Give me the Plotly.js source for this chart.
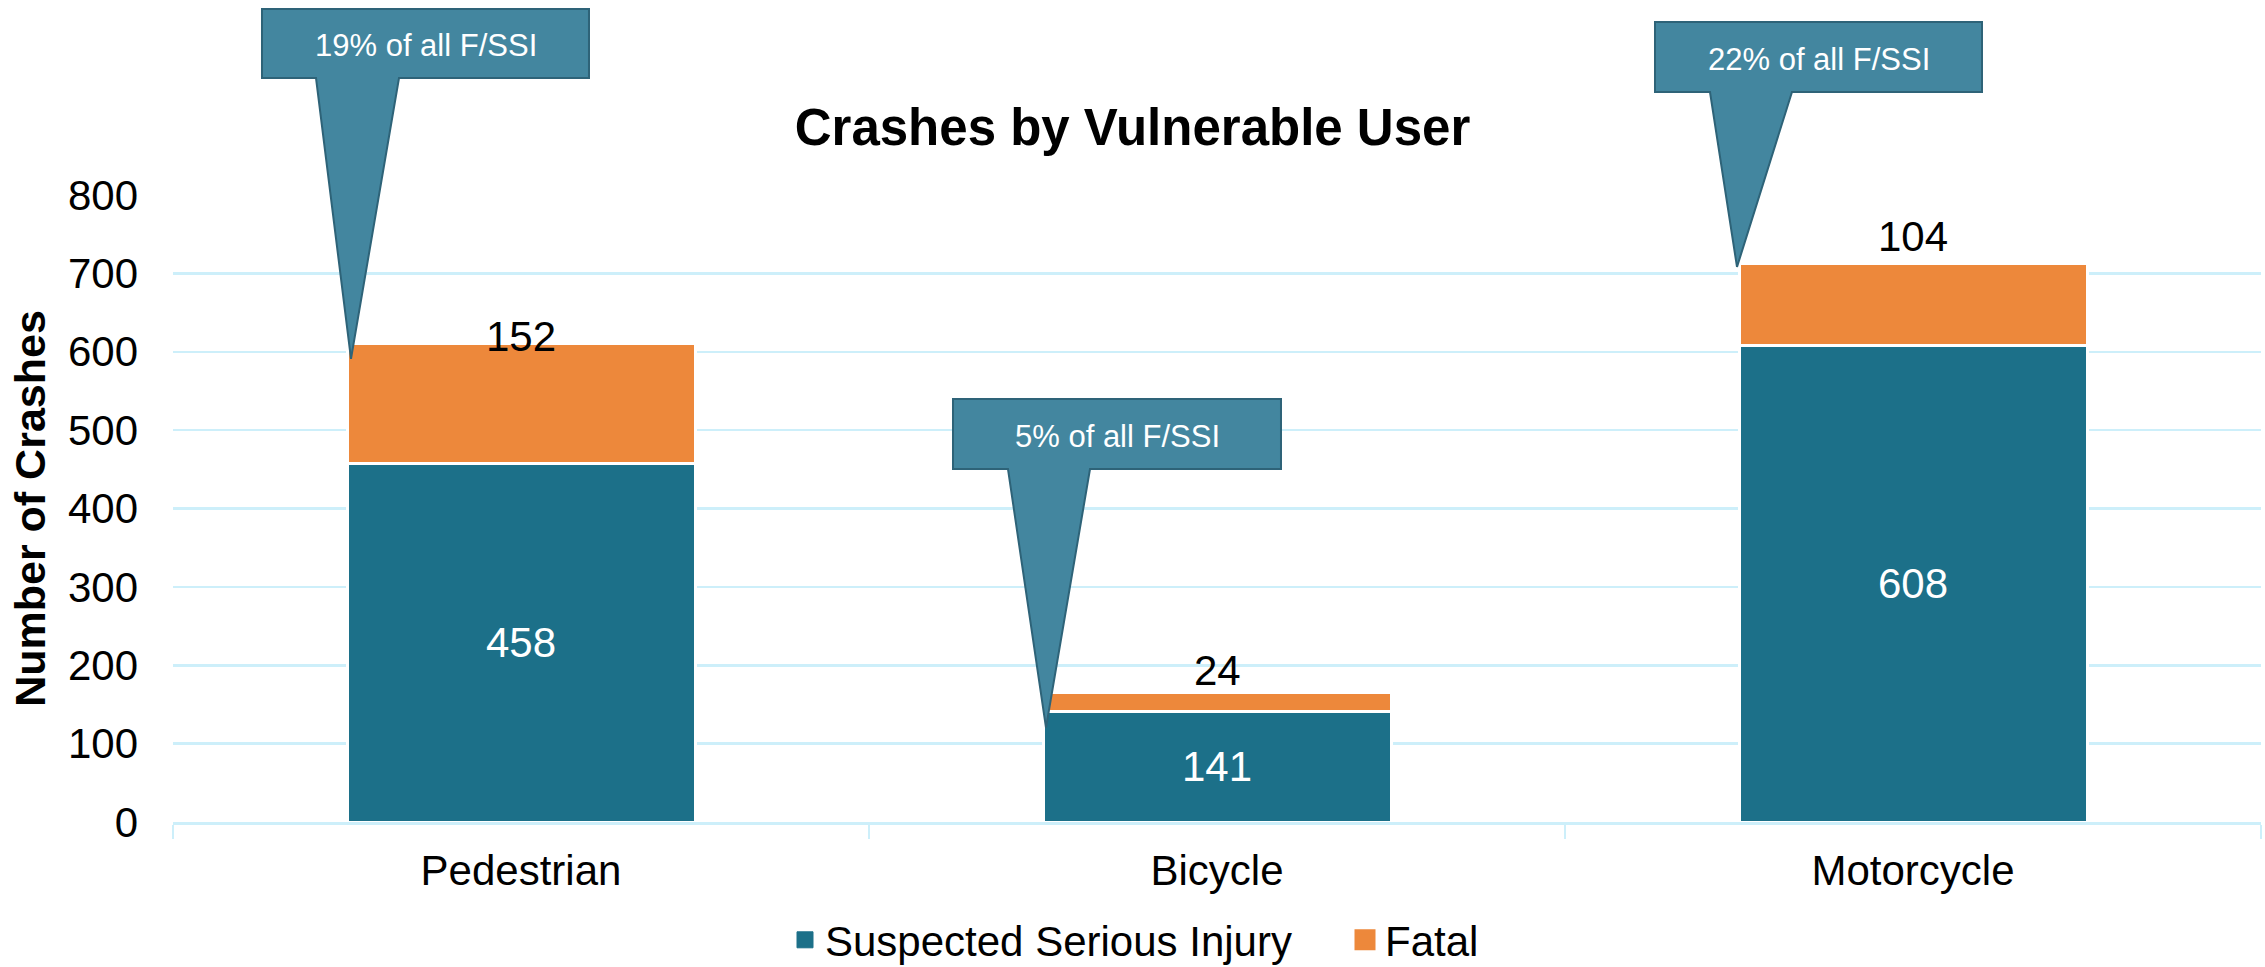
<!DOCTYPE html>
<html>
<head>
<meta charset="utf-8">
<script src="https://cdn.plot.ly/plotly-3.0.1.min.js"></script>
<style>html,body{margin:0;padding:0;background:#fff;}#chart{width:2265px;height:967px;}</style>
</head>
<body>
<div id="chart"></div>
<script>
// ---- data ----
const categories = ['Pedestrian', 'Bicycle', 'Motorcycle'];
const seriousInjury = [458, 141, 608];
const fatal = [152, 24, 104];
const calloutTexts = ['19% of all F/SSI', '5% of all F/SSI', '22% of all F/SSI'];
const seriesNames = ['Suspected Serious Injury', 'Fatal'];
const yTicks = [0, 100, 200, 300, 400, 500, 600, 700, 800];

// ---- layout constants ----
const W = 2265, H = 967;
const L = 173, R = 2261, T = 195, B = 822;
const Y_MAX = 800;
const BARGAP = 0.5;
const FONT = 'Liberation Sans, Arial, sans-serif';
const TEAL = '#1c7089', ORANGE = '#ed883b', GRID = '#cdeffa';
const CALL_FILL = '#43869f', CALL_LINE = '#2e6378';

const totals = seriousInjury.map((v, i) => v + fatal[i]);
const n = categories.length;
const xPix = i => L + (i + 0.5) / n * (R - L);
const yPix = v => B - v / Y_MAX * (B - T);
const barHalf = (1 - BARGAP) / 2 * (R - L) / n;
const toPX = X => (X - L) / (R - L);
const toPY = Y => (B - Y) / (B - T);

// callout geometry (pixels)
const calloutGeom = [
  {box: [262, 9, 589, 78], base: [316, 399], tipDx: 4, tipDy: 15},
  {box: [953, 399, 1281, 469], base: [1008, 1090], tipDx: 3, tipDy: 35},
  {box: [1655, 22, 1982, 92], base: [1710, 1792], tipDx: -2, tipDy: 3}
];
const labelShift = [-18, -3, 2];

const shapes = [];
const annotations = [];
calloutGeom.forEach((g, i) => {
  const tipX = xPix(i) - barHalf + g.tipDx;
  const tipY = yPix(totals[i]) + g.tipDy;
  const [x0, y0, x1, y1] = g.box;
  const pts = [[x0, y1], [x0, y0], [x1, y0], [x1, y1], [g.base[1], y1], [tipX, tipY], [g.base[0], y1]];
  const path = 'M' + pts.map(p => toPX(p[0]).toFixed(5) + ',' + toPY(p[1]).toFixed(5)).join('L') + 'Z';
  shapes.push({type: 'path', xref: 'paper', yref: 'paper', path: path,
    fillcolor: CALL_FILL, line: {color: CALL_LINE, width: 2}, layer: 'above'});
  annotations.push({xref: 'paper', yref: 'paper', x: toPX((x0 + x1) / 2), y: toPY((y0 + y1) / 2 + 2),
    xanchor: 'center', yanchor: 'middle', text: calloutTexts[i], showarrow: false,
    font: {family: FONT, size: 31, color: '#ffffff'}});
});
categories.forEach((c, i) => {
  annotations.push({x: c, y: totals[i], xref: 'x', yref: 'y', text: String(fatal[i]),
    showarrow: false, yanchor: 'bottom', xanchor: 'center', yshift: labelShift[i],
    font: {family: FONT, size: 42, color: '#000000'}});
});

const traces = [
  {type: 'bar', name: seriesNames[0], x: categories, y: seriousInjury, showlegend: false,
   marker: {color: TEAL, line: {color: '#ffffff', width: 3}},
   text: seriousInjury.map(String), textposition: 'inside', insidetextanchor: 'middle',
   textangle: 0, constraintext: 'none',
   insidetextfont: {family: FONT, size: 42, color: '#ffffff'}, hoverinfo: 'skip'},
  {type: 'bar', name: seriesNames[1], x: categories, y: fatal, showlegend: false,
   marker: {color: ORANGE, line: {color: '#ffffff', width: 3}}, hoverinfo: 'skip'},
  // legend keys (no visible marks)
  {type: 'scatter', mode: 'markers', name: seriesNames[0], x: [categories[0]], y: [null],
   marker: {symbol: 'square', size: 16, color: TEAL, line: {color: TEAL, width: 1}}, hoverinfo: 'skip'},
  {type: 'scatter', mode: 'markers', name: seriesNames[1], x: [categories[0]], y: [null],
   marker: {symbol: 'square', size: 16, color: ORANGE, line: {color: ORANGE, width: 5}}, hoverinfo: 'skip'}
];

const layout = {
  width: W, height: H,
  margin: {l: L, r: W - R, t: T, b: H - B, pad: 0},
  paper_bgcolor: '#ffffff', plot_bgcolor: '#ffffff',
  barmode: 'stack', bargap: BARGAP,
  font: {family: FONT, color: '#000000', size: 42},
  title: {text: '<b>Crashes by Vulnerable User</b>', font: {family: FONT, size: 51, color: '#000000'},
    xref: 'container', x: 0.5, xanchor: 'center', yref: 'container', y: 1 - 127 / H, yanchor: 'middle'},
  xaxis: {type: 'category', showline: true, linecolor: GRID, linewidth: 2.5,
    ticks: 'outside', tickson: 'boundaries', ticklen: 14, tickwidth: 2, tickcolor: GRID,
    tickfont: {family: FONT, size: 42, color: '#000000'}, ticklabelstandoff: 10,
    showgrid: false, zeroline: false, automargin: false, fixedrange: true},
  yaxis: {range: [0, Y_MAX], tickvals: yTicks, ticktext: yTicks.map(String),
    showgrid: true, gridcolor: GRID, gridwidth: 2.5, zeroline: false, showline: false,
    ticks: '', ticklabelstandoff: 34,
    tickfont: {family: FONT, size: 42, color: '#000000'},
    title: {text: '<b>Number of Crashes</b>', font: {family: FONT, size: 43, color: '#000000'}, standoff: 8},
    automargin: false, fixedrange: true},
  showlegend: true,
  legend: {orientation: 'h', xref: 'container', yref: 'container', x: 785 / W, xanchor: 'left',
    y: 1 - 940 / H, yanchor: 'middle', font: {family: FONT, size: 42, color: '#000000'},
    entrywidth: 515, entrywidthmode: 'pixels',
    traceorder: 'normal', itemclick: false, itemdoubleclick: false, bgcolor: 'rgba(0,0,0,0)'},
  shapes: shapes,
  annotations: annotations
};

Plotly.newPlot('chart', traces, layout, {displayModeBar: false, staticPlot: true});
</script>
</body>
</html>
